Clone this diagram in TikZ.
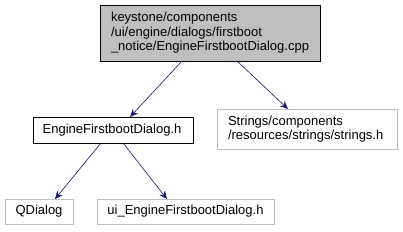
\documentclass[tikz,border=0pt]{standalone}
\usepackage{fontspec}
\setmainfont{Liberation Sans}
\usetikzlibrary{arrows.meta}
\definecolor{edgeblue}{HTML}{191970}
\definecolor{topfill}{HTML}{BFBFBF}
\definecolor{lightborder}{HTML}{BFBFBF}
\begin{document}
\begin{tikzpicture}[x=1pt,y=-1pt,
  every node/.style={font=\fontsize{13}{14.5}\selectfont, inner sep=0pt, outer sep=0pt},
  filebox/.style={draw=black, line width=0.8pt, fill=white},
  extbox/.style={draw=lightborder, line width=0.8pt, fill=white},
  dep/.style={draw=edgeblue, line width=0.6pt, -{Stealth[length=8pt,width=7pt,fill=edgeblue]}}]
\useasboundingbox (0,0) rectangle (403,231);
\node[draw=black, line width=0.8pt, fill=topfill, minimum width=220, minimum height=56, anchor=north west] (top) at (100,5) {};
\node[anchor=west, align=left] (toptxt) at (111,33) {keystone/components\\/ui/engine/dialogs/firstboot\\\_notice/EngineFirstbootDialog.cpp};
\node[filebox, minimum width=160, minimum height=26, anchor=north west] (efd) at (33,117) {};
\node (efdtxt) at (112,130) {EngineFirstbootDialog.h};
\node[extbox, minimum width=180, minimum height=40, anchor=north west] (str) at (217,109) {};
\node[anchor=west, align=left] (strtxt) at (228,129) {Strings/components\\/resources/strings/strings.h};
\node[extbox, minimum width=68, minimum height=25, anchor=north west] (qd) at (5,199) {};
\node (qdtxt) at (39,211.5) {QDialog};
\node[extbox, minimum width=177, minimum height=25, anchor=north west] (ui) at (97,199) {};
\node (uitxt) at (185.5,211.5) {ui\_EngineFirstbootDialog.h};
\coordinate (t1) at (182,61);
\coordinate (t2) at (237,61);
\coordinate (e1) at (101,143);
\coordinate (e2) at (123,143);
\draw[dep] (t1) -- (130,117);
\draw[dep] (t2) -- (288,109);
\draw[dep] (e1) -- (55,199);
\draw[dep] (e2) -- (167,199);
\end{tikzpicture}
\end{document}
